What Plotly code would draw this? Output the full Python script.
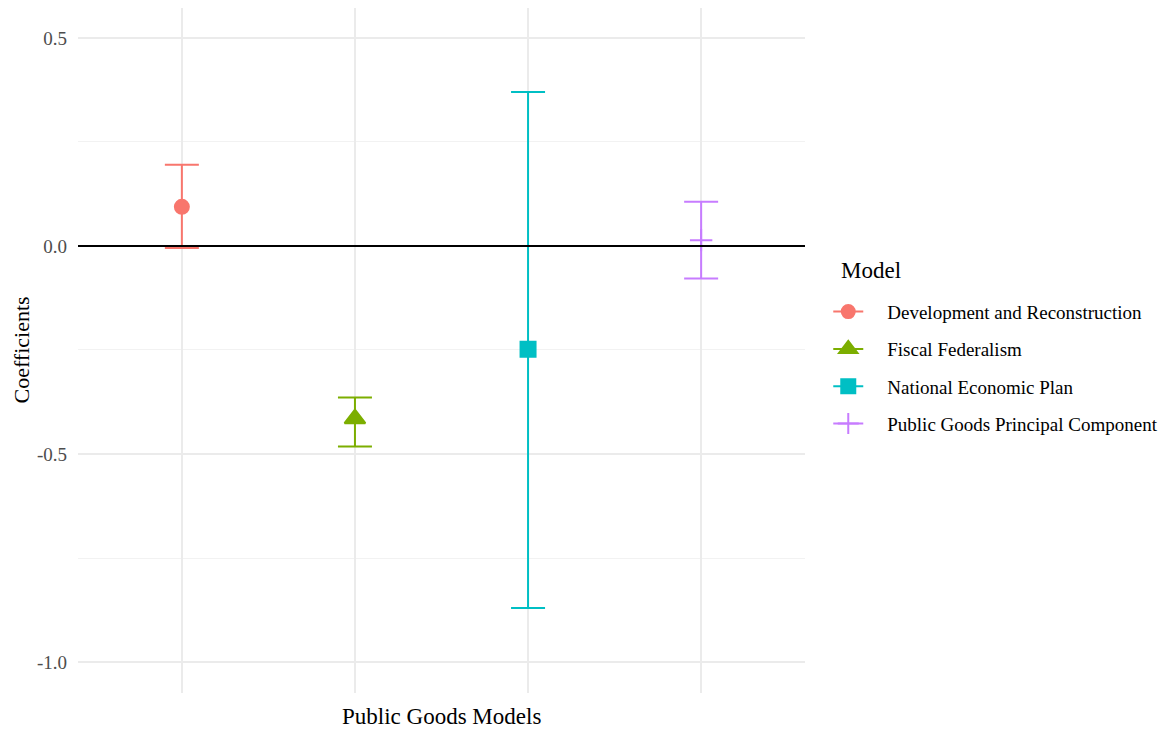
import plotly.graph_objects as go

models = ["Development and Reconstruction", "Fiscal Federalism",
          "National Economic Plan", "Public Goods Principal Component"]
positions = [1, 2, 3, 4]
estimates = [0.094, -0.415, -0.248, 0.014]
upper = [0.195, -0.364, 0.370, 0.106]
lower = [-0.005, -0.482, -0.870, -0.078]
colors = ["#F8766D", "#7CAE00", "#00BFC4", "#C77CFF"]
symbols = ["circle", "triangle-up", "square", "cross-thin"]
msizes = [14, 18, 15, 16]
ytick_vals = [-1.0, -0.5, 0.0, 0.5]
ytick_text = ["-1.0", "-0.5", "0.0", "0.5"]

FONT = "Liberation Serif"
PAD = "\u00a0" * 4
fig = go.Figure()

for i, m in enumerate(models):
    fig.add_trace(go.Scatter(
        x=[positions[i]], y=[estimates[i]], mode="markers",
        showlegend=False,
        marker=dict(symbol=symbols[i], size=msizes[i], color=colors[i],
                    line=dict(color=colors[i], width=2)),
        error_y=dict(type="data", symmetric=False,
                     array=[upper[i] - estimates[i]],
                     arrayminus=[estimates[i] - lower[i]],
                     color=colors[i], thickness=2, width=17),
    ))

for i, m in enumerate(models):
    fig.add_trace(go.Scatter(
        x=[None], y=[None], mode="lines+markers", name=PAD + m,
        legendgroup=m,
        line=dict(color=colors[i], width=2),
        marker=dict(symbol=symbols[i], size=msizes[i] - 1, color=colors[i],
                    line=dict(color=colors[i], width=2)),
    ))

fig.add_hline(y=0, line=dict(color="black", width=2), layer="above")

# page body has an 8px margin, so the figure is offset by 8px
fig.update_layout(
    width=1160, height=723,
    margin=dict(l=70, r=363, t=0, b=38),
    paper_bgcolor="white", plot_bgcolor="white",
    font=dict(family=FONT, color="black"),
    xaxis=dict(range=[0.4, 4.6], tickvals=positions, showticklabels=False,
               showgrid=True, gridcolor="#EBEBEB", gridwidth=2,
               zeroline=False, showline=False, ticks="", automargin=False),
    yaxis=dict(range=[-1.0745, 0.572], tickvals=ytick_vals, ticktext=ytick_text,
               showgrid=True, gridcolor="#EBEBEB", gridwidth=2,
               minor=dict(dtick=0.25, tick0=0, showgrid=True,
                          gridcolor="#F2F2F2", gridwidth=1),
               zeroline=False, showline=False, ticks="",
               ticklabelstandoff=10, automargin=False,
               tickfont=dict(family=FONT, size=19, color="#4D4D4D")),
    legend=dict(x=1.032, xanchor="left", y=0.5843, yanchor="top",
                font=dict(family=FONT, size=19, color="black"),
                tracegroupgap=9.6, itemwidth=30),
    showlegend=True,
)

fig.add_annotation(text="Model", xref="paper", yref="paper",
                   x=1.0468, y=0.6175, xanchor="left", yanchor="middle",
                   showarrow=False, font=dict(family=FONT, size=23, color="black"))
fig.add_annotation(text="Public Goods Models", xref="paper", yref="paper",
                   x=0.5, y=0, yshift=-23, xanchor="center", yanchor="middle",
                   showarrow=False, font=dict(family=FONT, size=23, color="black"))
fig.add_annotation(text="Coefficients", xref="paper", yref="paper",
                   x=0, xshift=-57, y=0.5, textangle=-90, xanchor="center",
                   yanchor="middle", showarrow=False,
                   font=dict(family=FONT, size=22, color="black"))

fig.write_html("out.html")
